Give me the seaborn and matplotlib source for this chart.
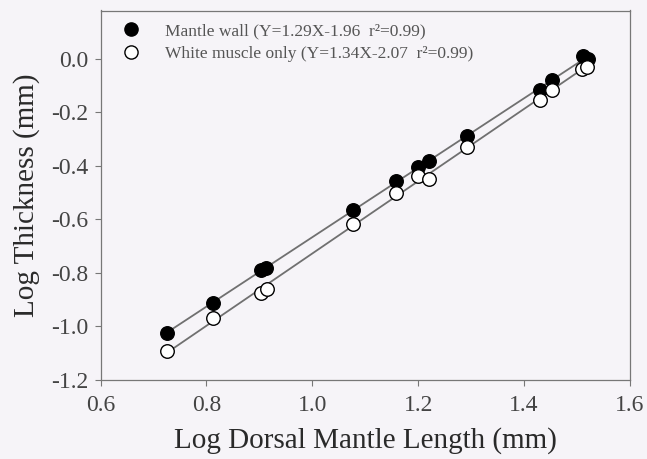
import numpy as np
import pandas as pd
import matplotlib
matplotlib.use("Agg")
import matplotlib.pyplot as plt
import seaborn as sns
from matplotlib.lines import Line2D

# Data
mantle_x = [0.726, 0.813, 0.903, 0.913, 1.077, 1.159, 1.200, 1.221, 1.292, 1.430, 1.452, 1.512, 1.521]
mantle_y = [-1.024, -0.913, -0.790, -0.780, -0.564, -0.456, -0.403, -0.381, -0.290, -0.116, -0.079, 0.009, -0.001]
white_x = [0.726, 0.813, 0.903, 0.915, 1.077, 1.159, 1.200, 1.221, 1.292, 1.430, 1.452, 1.509, 1.519]
white_y = [-1.092, -0.967, -0.875, -0.862, -0.618, -0.500, -0.437, -0.449, -0.328, -0.153, -0.116, -0.039, -0.030]
labels = ["Mantle wall (Y=1.29X-1.96  r²=0.99)",
          "White muscle only (Y=1.34X-2.07  r²=0.99)"]
xticks = [0.6, 0.8, 1.0, 1.2, 1.4, 1.6]
yticks = [0.0, -0.2, -0.4, -0.6, -0.8, -1.0, -1.2]

sns.set_style("ticks")
plt.rcParams['font.family'] = ['Liberation Serif', 'DejaVu Serif']
bg = '#f6f4f8'
fig = plt.figure(figsize=(6.47, 4.59), dpi=100, facecolor=bg)
ax = fig.add_axes([100.5/647, 1-380/459, (630-100.5)/647, (380-10.5)/459])
ax.set_facecolor(bg)

df_m = pd.DataFrame({"x": mantle_x, "y": mantle_y})
df_w = pd.DataFrame({"x": white_x, "y": white_y})
line_kw = dict(color='#707070', lw=1.3, zorder=1)
sns.regplot(data=df_m, x="x", y="y", ci=None, ax=ax,
            scatter_kws=dict(s=95, facecolor='black', edgecolor='black', linewidths=1.0, zorder=3, alpha=1),
            line_kws=line_kw)
sns.regplot(data=df_w, x="x", y="y", ci=None, ax=ax,
            scatter_kws=dict(s=95, facecolor='white', edgecolor='black', linewidths=1.0, zorder=3, alpha=1),
            line_kws=line_kw)

ax.set_xlim(0.6, 1.6)
ax.set_ylim(-1.2, 0.18)
ax.set_xticks(xticks)
ax.set_xticklabels([f"{v:.1f}" for v in xticks])
ax.set_yticks(yticks)
ax.set_yticklabels([f"{v:.1f}" for v in yticks])
ax.tick_params(direction='out', length=4, width=0.8, colors='#777777', labelsize=17,
               labelcolor='#444444')
ax.tick_params(axis='x', pad=7)
ax.tick_params(axis='y', pad=5)
for s in ax.spines.values():
    s.set_visible(True)
    s.set_color('#777777')
    s.set_linewidth(0.9)
ax.set_xlabel("Log Dorsal Mantle Length (mm)", fontsize=21, color='#2a2a2a', labelpad=8)
ax.set_ylabel("Log Thickness (mm)", fontsize=21, color='#2a2a2a', labelpad=8)

handles = [Line2D([], [], ls='', marker='o', ms=9.5, mfc='black', mec='black'),
           Line2D([], [], ls='', marker='o', ms=9.5, mfc='white', mec='black')]
ax.legend(handles, labels, loc='upper left', frameon=False, fontsize=12.5,
          labelcolor='#555555', handletextpad=1.35, borderaxespad=0.2,
          bbox_to_anchor=(0.018, 0.995), labelspacing=0.4, handlelength=1.2)

fig.savefig("out.png", dpi=100, facecolor=bg)
